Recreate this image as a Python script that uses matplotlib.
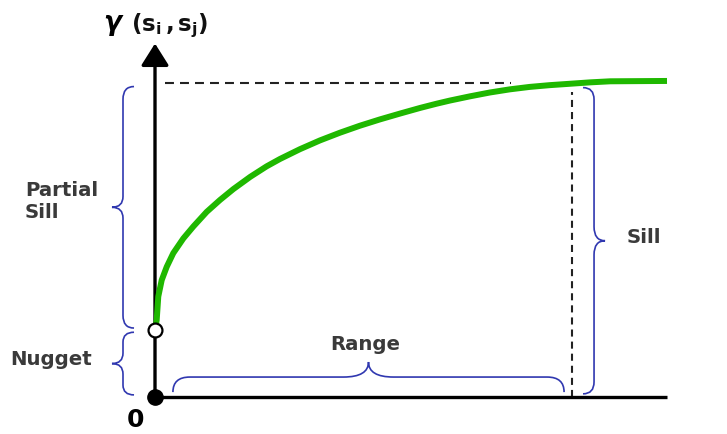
import matplotlib
matplotlib.use("Agg")
import matplotlib.pyplot as plt
from matplotlib.path import Path
from matplotlib.patches import PathPatch

# ---- data (semivariogram) ----
lag = [0, 0.33, 0.64, 1.31, 2.29, 3.57, 5.53, 7.48, 10.1, 12.7, 15.3, 18.6,
       21.8, 24.4, 28.3, 32.2, 36.1, 40.0, 43.9, 47.9, 51.8, 55.0, 57.6,
       61.5, 65.4, 69.3, 73.2, 77.1, 81.1, 85.0, 88.9, 100.0]
gamma = [19.1, 22.0, 28.7, 33.4, 37.2, 41.1, 45.3, 48.7, 52.9, 56.3, 59.4,
         62.9, 65.9, 68.0, 70.8, 73.3, 75.5, 77.5, 79.3, 81.0, 82.6, 83.8,
         84.7, 85.9, 87.0, 87.9, 88.6, 89.1, 89.5, 89.9, 90.2, 90.3]
nugget = 19.1
sill = 89.7
rng = 81.4
x_max = 100.0
y_top = 101.0

labels = {"partial": "Partial\nSill", "nugget": "Nugget", "range": "Range",
          "sill": "Sill", "origin": "0"}

GREEN = "#1fb800"
BLUE = "#3038b0"
TEXT = "#3a3a3a"

fig = plt.figure(figsize=(7.27, 4.34), dpi=100)
ax = fig.add_axes([0, 0, 1, 1])
ax.set_xlim(-155 / 5.12, 572 / 5.12)
ax.set_ylim(-37 / 3.5, 397 / 3.5)
ax.axis("off")


def brace(a, b, base, depth, vertical, r_end, r_tip, **kw):
    m = (a + b) / 2
    mid = base + depth / 2
    tip = base + depth
    pts = [(a, base), (a, mid), (a + r_end, mid),
           (m - r_tip, mid), (m, mid), (m, tip),
           (m, mid), (m + r_tip, mid),
           (b - r_end, mid), (b, mid), (b, base)]
    codes = [Path.MOVETO, Path.CURVE3, Path.CURVE3, Path.LINETO,
             Path.CURVE3, Path.CURVE3, Path.CURVE3, Path.CURVE3,
             Path.LINETO, Path.CURVE3, Path.CURVE3]
    if vertical:
        pts = [(t, s) for s, t in pts]
    ax.add_patch(PathPatch(Path(pts, codes), fill=False, **kw))


# axes lines
ax.plot([0, x_max], [0, 0], color="black", lw=2.4, solid_capstyle="butt", zorder=3)
ax.annotate("", xy=(0, y_top), xytext=(0, 0),
            arrowprops=dict(arrowstyle="-|>,head_length=13.5,head_width=8.5",
                            mutation_scale=1, lw=2.4, color="black",
                            shrinkA=0, shrinkB=0), zorder=3)

# dashed guide lines
ax.plot([2, 69.5], [sill, sill], color="#222222", lw=1.5, dashes=(4.3, 2.9), zorder=2)
ax.plot([rng, rng], [0, sill - 2.6], color="#222222", lw=1.5, dashes=(3.4, 2.4), zorder=2)

# model curve
ax.plot(lag, gamma, color=GREEN, lw=4.3, solid_capstyle="butt",
        solid_joinstyle="round", zorder=4)

# points
ax.plot([0], [nugget], "o", ms=10, mfc="white", mec="black", mew=1.6, zorder=6)
ax.plot([0], [0], "o", ms=11, color="black", zorder=6)

# braces
bkw = dict(color=BLUE, lw=1.2, zorder=5)
brace(nugget + 0.6, sill - 1.0, -4.1, -4.3, True, 3.6, 3.1, **bkw)
brace(0.6, nugget - 0.6, -4.1, -4.3, True, 2.8, 3.0, **bkw)
brace(0.9, sill - 1.3, 83.6, 4.3, True, 3.4, 4.0, **bkw)
brace(3.5, rng - 1.5, 1.4, 8.6, False, 3.3, 4.9, **bkw)

# texts
tkw = dict(color=TEXT, fontsize=14.2, fontweight="bold", family="DejaVu Sans")
ax.text(-25.4, 55.9, labels["partial"], ha="left", va="center", linespacing=1.2, **tkw)
ax.text(-28.3, 10.6, labels["nugget"], ha="left", va="center", **tkw)
ax.text(41, 14.9, labels["range"], ha="center", va="center", **tkw)
ax.text(92.2, 45.7, labels["sill"], ha="left", va="center", **tkw)
ax.text(-3.9, -6.6, labels["origin"], ha="center", va="center", color="black",
        fontsize=18, fontweight="bold")

plt.rcParams["mathtext.fontset"] = "dejavusans"
ax.text(-10.2, 106.9, "\u03b3", ha="left", va="center", fontsize=19,
        fontweight="bold", fontstyle="italic", color="black")
ax.text(-4.6, 106.2,
        r"$\mathbf{(}\mathbf{s}_{\mathbf{i}}\,\mathbf{,}\,\mathbf{s}_{\mathbf{j}}\mathbf{)}$",
        ha="left", va="center", fontsize=16.5, color="#111111")

fig.savefig("out.png", dpi=100)
